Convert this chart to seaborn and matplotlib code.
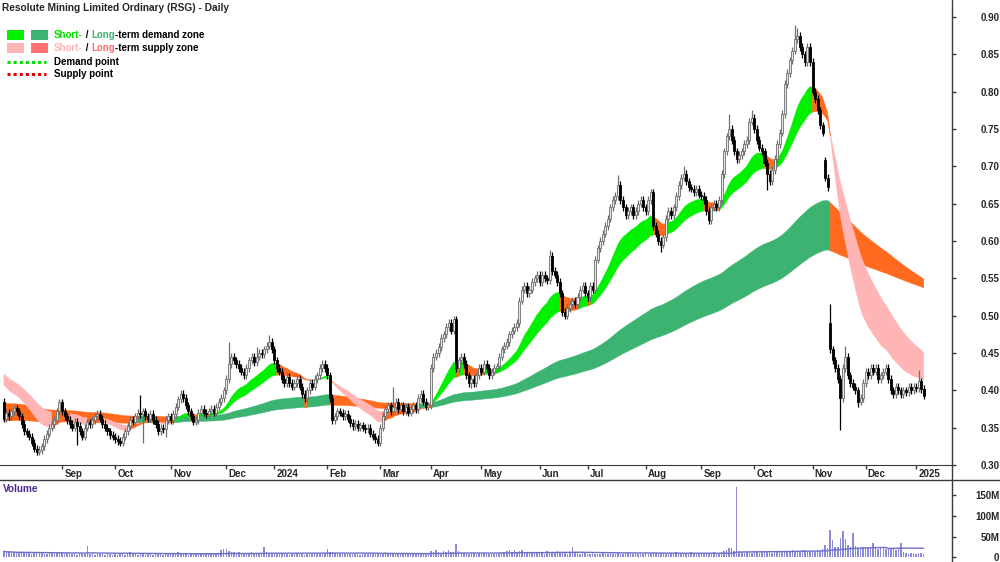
import numpy as np
import pandas as pd
import matplotlib
matplotlib.use("Agg")
import matplotlib.pyplot as plt
from matplotlib.lines import Line2D
from matplotlib.patches import Rectangle
from matplotlib.text import Annotation
from matplotlib.transforms import blended_transform_factory
import seaborn as sns

# daily closes (A$), one list per month, Aug 2023 -> Jan 2025
aug23 = [0.362, 0.370, 0.365, 0.372, 0.376, 0.372, 0.365, 0.355, 0.345, 0.342, 0.338, 0.330, 0.322, 0.318, 0.320, 0.325, 0.335, 0.342, 0.350, 0.355, 0.360, 0.372, 0.384]
sep23 = [0.372, 0.365, 0.360, 0.355, 0.350, 0.358, 0.352, 0.345, 0.338, 0.350, 0.357, 0.355, 0.360, 0.365, 0.368, 0.362, 0.355, 0.350, 0.345, 0.340, 0.338]
oct23 = [0.335, 0.332, 0.330, 0.338, 0.345, 0.352, 0.360, 0.358, 0.365, 0.370, 0.368, 0.372, 0.365, 0.362, 0.368, 0.360, 0.355, 0.345, 0.350, 0.348, 0.360, 0.365]
nov23 = [0.360, 0.368, 0.378, 0.388, 0.395, 0.390, 0.380, 0.372, 0.365, 0.358, 0.360, 0.370, 0.375, 0.370, 0.368, 0.372, 0.375, 0.370, 0.378, 0.385, 0.390, 0.400]
dec23 = [0.415, 0.435, 0.445, 0.440, 0.435, 0.430, 0.425, 0.420, 0.430, 0.440, 0.445, 0.438, 0.445, 0.450, 0.448, 0.455, 0.460, 0.465, 0.455]
jan24 = [0.440, 0.430, 0.425, 0.415, 0.410, 0.418, 0.410, 0.405, 0.410, 0.415, 0.405, 0.395, 0.390, 0.400, 0.410, 0.405, 0.415, 0.420, 0.430, 0.435, 0.430]
feb24 = [0.420, 0.390, 0.360, 0.365, 0.372, 0.370, 0.365, 0.368, 0.362, 0.356, 0.352, 0.355, 0.350, 0.353, 0.350, 0.348, 0.350, 0.342, 0.338, 0.335, 0.330]
mar24 = [0.350, 0.365, 0.375, 0.380, 0.372, 0.378, 0.385, 0.375, 0.380, 0.372, 0.378, 0.370, 0.375, 0.380, 0.375, 0.390, 0.395, 0.385, 0.378, 0.380]
apr24 = [0.430, 0.445, 0.450, 0.458, 0.470, 0.475, 0.485, 0.490, 0.480, 0.495, 0.430, 0.440, 0.445, 0.435, 0.420, 0.410, 0.415, 0.410, 0.420, 0.430]
may24 = [0.425, 0.435, 0.430, 0.420, 0.425, 0.430, 0.432, 0.445, 0.455, 0.460, 0.465, 0.475, 0.480, 0.485, 0.490, 0.520, 0.535, 0.540, 0.530, 0.535, 0.545, 0.550, 0.555]
jun24 = [0.545, 0.555, 0.550, 0.548, 0.580, 0.560, 0.555, 0.545, 0.530, 0.505, 0.500, 0.510, 0.515, 0.520, 0.515, 0.525, 0.535, 0.540, 0.530]
jul24 = [0.525, 0.540, 0.535, 0.575, 0.590, 0.600, 0.610, 0.620, 0.630, 0.645, 0.655, 0.660, 0.675, 0.655, 0.645, 0.635, 0.640, 0.645, 0.635, 0.640, 0.650, 0.655, 0.645]
aug24 = [0.640, 0.655, 0.665, 0.620, 0.610, 0.600, 0.595, 0.605, 0.630, 0.640, 0.635, 0.645, 0.660, 0.675, 0.685, 0.690, 0.680, 0.672, 0.670, 0.665, 0.670, 0.662]
sep24 = [0.660, 0.655, 0.640, 0.628, 0.645, 0.650, 0.645, 0.655, 0.690, 0.720, 0.740, 0.750, 0.735, 0.720, 0.710, 0.715, 0.720, 0.730, 0.735, 0.760, 0.765]
oct24 = [0.750, 0.735, 0.725, 0.720, 0.705, 0.690, 0.680, 0.695, 0.710, 0.730, 0.745, 0.770, 0.810, 0.825, 0.842, 0.855, 0.870, 0.875, 0.860, 0.850, 0.840, 0.860, 0.840]
nov24 = [0.800, 0.790, 0.775, 0.755, 0.745, 0.685, 0.672, 0.455, 0.440, 0.430, 0.415, 0.390, 0.430, 0.445, 0.420, 0.410, 0.405, 0.400, 0.385, 0.390, 0.410]
dec24 = [0.425, 0.420, 0.430, 0.425, 0.430, 0.415, 0.420, 0.425, 0.430, 0.415, 0.400, 0.395, 0.405, 0.400, 0.395, 0.400, 0.398, 0.405, 0.400, 0.405]
jan25 = [0.403, 0.412, 0.402, 0.393]

# daily volume (millions), same months
vaug23 = [15, 12, 14, 11, 13, 10, 12, 14, 11, 12, 10, 9, 11, 12, 13, 10, 9, 8, 10, 11, 9, 10, 12]
vsep23 = [10, 9, 11, 8, 9, 8, 7, 9, 10, 9, 27, 8, 9, 7, 8, 9, 8, 7, 9, 8, 7]
voct23 = [8, 7, 9, 8, 7, 10, 12, 9, 8, 7, 9, 8, 7, 9, 8, 7, 9, 10, 8, 7, 9, 8]
vnov23 = [8, 9, 10, 12, 11, 9, 8, 7, 9, 8, 10, 9, 8, 9, 8, 9, 10, 8, 9, 11, 18, 21]
vdec23 = [20, 16, 14, 12, 10, 13, 9, 10, 11, 9, 12, 10, 9, 11, 10, 26, 12, 10, 9]
vjan24 = [8, 9, 8, 10, 9, 8, 7, 9, 8, 10, 9, 8, 7, 8, 9, 8, 10, 9, 8, 9, 10]
vfeb24 = [21, 14, 12, 10, 9, 8, 9, 8, 10, 9, 8, 9, 8, 7, 9, 8, 9, 10, 9, 8, 9]
vmar24 = [9, 10, 13, 11, 9, 8, 10, 9, 8, 9, 10, 8, 9, 8, 10, 9, 11, 9, 8, 10]
vapr24 = [16, 12, 18, 14, 11, 15, 13, 17, 12, 14, 33, 15, 12, 11, 10, 9, 11, 10, 9, 10]
vmay24 = [9, 10, 8, 9, 10, 8, 9, 11, 10, 12, 16, 19, 14, 18, 13, 15, 17, 12, 11, 10, 12, 11, 10]
vjun24 = [10, 11, 9, 15, 12, 14, 10, 16, 12, 11, 10, 9, 11, 25, 12, 10, 9, 10, 11]
vjul24 = [9, 8, 10, 9, 8, 9, 10, 8, 9, 10, 9, 8, 10, 9, 8, 9, 10, 8, 9, 10, 9, 8, 9]
vaug24 = [10, 9, 11, 12, 10, 9, 11, 10, 9, 8, 10, 9, 12, 10, 9, 11, 10, 9, 12, 10, 9, 11]
vsep24 = [10, 9, 11, 10, 9, 12, 10, 11, 13, 15, 18, 24, 22, 16, 171, 14, 12, 11, 13, 12, 11]
voct24 = [12, 13, 11, 12, 14, 13, 12, 11, 12, 13, 14, 12, 13, 15, 16, 17, 15, 16, 14, 18, 17, 15, 14]
vnov24 = [16, 14, 18, 15, 20, 30, 22, 67, 43, 25, 25, 47, 65, 45, 30, 25, 59, 28, 24, 22, 26]
vdec24 = [24, 22, 25, 36, 23, 21, 24, 22, 20, 23, 21, 22, 19, 20, 36, 12, 10, 9, 11, 10]
vjan25 = [9, 11, 10, 8]

month_labels = ["Sep", "Oct", "Nov", "Dec", "2024", "Feb", "Mar", "Apr", "May",
                "Jun", "Jul", "Aug", "Sep", "Oct", "Nov", "Dec", "2025"]

# opens that gapped away from the previous close
gap_open = {0: 0.385, 325: 0.708, 327: 0.490}
# wick extremes
wick_high = {22: 0.389, 54: 0.394, 70: 0.400, 89: 0.465, 100: 0.458, 105: 0.474,
             126: 0.440, 154: 0.405, 178: 0.500, 216: 0.588, 243: 0.688, 269: 0.700,
             287: 0.770, 296: 0.776, 313: 0.889, 314: 0.885, 327: 0.516, 333: 0.460, 362: 0.427}
wick_low = {13: 0.313, 29: 0.327, 55: 0.330, 64: 0.338, 148: 0.327, 185: 0.403,
            260: 0.585, 302: 0.668, 331: 0.347, 338: 0.378}

price_months = [aug23, sep23, oct23, nov23, dec23, jan24, feb24, mar24, apr24, may24,
                jun24, jul24, aug24, sep24, oct24, nov24, dec24, jan25]
vol_months = [vaug23, vsep23, voct23, vnov23, vdec23, vjan24, vfeb24, vmar24, vapr24, vmay24,
              vjun24, vjul24, vaug24, vsep24, voct24, vnov24, vdec24, vjan25]

close = np.concatenate(price_months)
vol = np.concatenate(vol_months).astype(float)
n = len(close)
idx = np.arange(n)
starts = np.cumsum([0] + [len(m) for m in price_months[:-1]])

opn = np.r_[close[0], close[:-1]]
for k, v in gap_open.items():
    opn[k] = v
high = np.maximum(opn, close) + 0.005
low = np.minimum(opn, close) - 0.005
for k, v in wick_high.items():
    high[k] = max(high[k], v)
for k, v in wick_low.items():
    low[k] = min(low[k], v)


def ema(values, span, seed):
    a = 2.0 / (span + 1)
    out = np.empty(len(values))
    e = seed
    for i, v in enumerate(values):
        e = e + a * (v - e)
        out[i] = e
    return out


# zone lines (fast / slow averages), seeded with the levels at the left edge
st_fast = ema(close, 20, 0.412)
st_slow = ema(close, 36, 0.425)
lt_fast = ema(close, 134, 0.383)
lt_slow = ema(close, 224, 0.359)

df = pd.DataFrame({"idx": idx, "volume": vol})
df["vol_ma"] = df["volume"].rolling(60, min_periods=1).mean()

sns.set_style("white")
plt.rcParams["font.family"] = ["Liberation Sans", "DejaVu Sans"]

W, H = 1000, 562
fig = plt.figure(figsize=(W / 100, H / 100), dpi=100)
ax = fig.add_axes([0, 1 - 465 / H, 952 / W, 465 / H])
axv = fig.add_axes([0, 0, 952 / W, (H - 480) / H])

ORANGE = "#FF6A1F"


def draw_zone(fast, slow, seed, colors, z):
    prev = np.r_[seed, fast[:-1]]
    up = fast > prev
    state = np.where((fast > slow) & up, 0, np.where((fast < slow) & ~up, 1, 2))
    lo = np.minimum(fast, slow)
    hi = np.maximum(fast, slow)
    for s, col in enumerate(colors):
        m = state == s
        m[1:] = m[1:] | m[:-1]
        ax.fill_between(idx, lo, hi, where=m, color=col, lw=0.3, ec=col,
                        zorder=z, interpolate=False)


draw_zone(lt_fast, lt_slow, 0.383, ["#3CB371", "#FF7070", ORANGE], 1)
draw_zone(st_fast, st_slow, 0.412, ["#00F000", "#FFB5B5", ORANGE], 2)

# candles
up = close >= opn
ax.vlines(idx, low, high, colors=np.where(up, "#6e6e6e", "black"), lw=0.9, zorder=3)
body_lo = np.minimum(opn, close)
body_h = np.maximum(np.abs(close - opn), 0.0015)
ax.bar(idx, body_h, bottom=body_lo, width=0.8,
       color=np.where(up, "#e6e6e6", "black"),
       edgecolor=np.where(up, "#6e6e6e", "black"), linewidth=0.6, zorder=4)

# volume
sns.barplot(data=df, x="idx", y="volume", native_scale=True, width=0.6,
            color="#8A8AD8", saturation=1, errorbar=None, linewidth=0, ax=axv)
sns.lineplot(data=df, x="idx", y="vol_ma", color="#6E6EC8", lw=1, ax=axv)

xlim = (-1.54, 375.2)
for a in (ax, axv):
    a.set_xlim(*xlim)
    a.set_xlabel("")
    a.set_ylabel("")
    for s in ("left", "top", "right"):
        a.spines[s].set_visible(False)
axv.spines["bottom"].set_visible(False)
ax.spines["bottom"].set_color("#3a3a3a")

ax.set_ylim(0.30, 0.9228)
axv.set_ylim(-11, 187)

# month ticks
ax.set_xticks(starts[1:])
ax.set_xticklabels([])
ax.tick_params(axis="x", bottom=True, length=3, width=1, color="#3a3a3a", direction="out")
axv.set_xticks([])
tr = blended_transform_factory(ax.transData, ax.transAxes)
for s, lab in zip(starts[1:], month_labels):
    ax.text(s + 0.9, -9 / 465, lab, transform=tr, ha="left", va="center",
            fontsize=7, fontweight="bold")

# right-hand value axes
yt = np.round(np.arange(0.30, 0.901, 0.05), 2)
ax.yaxis.tick_right()
ax.set_yticks(yt)
ax.set_yticklabels([f"{v:.2f}" for v in yt])
axv.yaxis.tick_right()
axv.set_yticks([0, 50, 100, 150])
axv.set_yticklabels(["0", "50M", "100M", "150M"])
for a in (ax, axv):
    a.tick_params(axis="y", right=True, left=False, labelright=True, labelleft=False,
                  length=3, width=1, color="#3a3a3a", pad=31, labelsize=7)
    for lbl in a.get_yticklabels():
        lbl.set_horizontalalignment("right")
        lbl.set_fontweight("bold")

# frame lines
fig.add_artist(Line2D([952 / W, 952 / W], [0, 1], transform=fig.transFigure, color="#3a3a3a", lw=1))
fig.add_artist(Line2D([0, 1], [1 - 480 / H, 1 - 480 / H], transform=fig.transFigure, color="#3a3a3a", lw=1))

# titles
fig.text(2 / W, 1 - 8 / H, "Resolute Mining Limited Ordinary (RSG) - Daily",
         fontsize=7.3, fontweight="bold", va="center", ha="left")
fig.text(3 / W, 1 - 489 / H, "Volume", fontsize=7.2, fontweight="bold",
         color="#4B2A8C", va="center", ha="left")


# legend
def px(x, y):
    return x / W, 1 - y / H


for (x0, y0, col) in [(7, 30, "#00F000"), (31, 30, "#3CB371"),
                      (7, 43, "#FFB5B5"), (31, 43, "#FF7070")]:
    fig.add_artist(Rectangle(px(x0, y0 + 10), 17 / W, 10 / H,
                             transform=fig.transFigure, color=col, lw=0))
for y0, col in [(62, "#00DD00"), (74, "#E00000")]:
    fig.add_artist(Line2D([7 / W, 46 / W], [1 - y0 / H] * 2, transform=fig.transFigure,
                          color=col, lw=2.2, linestyle=(0, (1, 1))))


def chain_text(parts, y0):
    prev = fig.text(*px(54, y0), parts[0][0], color=parts[0][1], fontsize=7,
                    fontweight="bold", va="center", ha="left")
    for s, col in parts[1:]:
        prev = fig.add_artist(Annotation(
            s, xy=(1, 0), xycoords=prev, color=col, fontsize=7, fontweight="bold",
            va="bottom", ha="left"))


chain_text([("Short-", "#00E000"), (" / ", "black"), ("Long", "#3CB371"),
            ("-term demand zone", "black")], 35)
chain_text([("Short-", "#FFB3B3"), (" / ", "black"), ("Long", "#FF6E6E"),
            ("-term supply zone", "black")], 48)
chain_text([("Demand point", "black")], 62)
chain_text([("Supply point", "black")], 74)

fig.savefig("out.png", dpi=100)
